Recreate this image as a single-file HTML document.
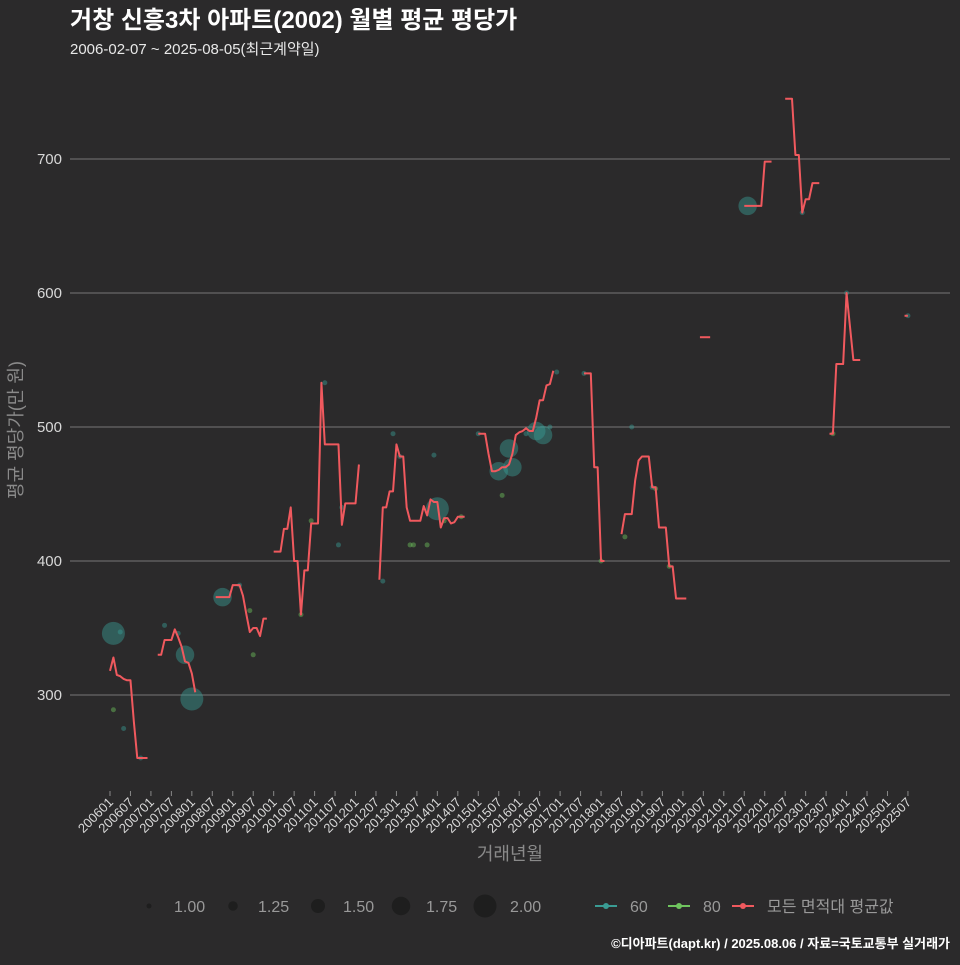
<!DOCTYPE html>
<html><head><meta charset="utf-8">
<style>
html,body{margin:0;padding:0;background:#2b2a2b;}
body{width:960px;height:960px;overflow:hidden;font-family:"Liberation Sans","Noto Sans CJK KR",sans-serif;}
svg text{font-family:"Liberation Sans","Noto Sans CJK KR",sans-serif;}
</style></head>
<body>
<svg id="chart" width="960" height="960" xmlns="http://www.w3.org/2000/svg">
<rect x="0" y="0" width="960" height="960" fill="#2b2a2b"/>
<text x="70" y="28" fill="#ffffff" font-size="24" font-weight="bold">거창 신흥3차 아파트(2002) 월별 평균 평당가</text>
<text x="70" y="54" fill="#e8e8e8" font-size="15">2006-02-07 ~ 2025-08-05(최근계약일)</text>
<g id="grid"></g>
<g id="yticks"></g>
<g id="xticks"></g>
<g id="points"></g>
<g id="lines"></g>
<text transform="translate(22,430) rotate(-90)" text-anchor="middle" fill="#8a8a8a" font-size="18">평균 평당가(만 원)</text>
<text x="510" y="860" text-anchor="middle" fill="#8a8a8a" font-size="18">거래년월</text>
<g id="legend"></g>
<text x="950" y="948" text-anchor="end" fill="#ffffff" font-size="13" font-weight="bold">©디아파트(dapt.kr) / 2025.08.06 / 자료=국토교통부 실거래가</text>
</svg>
<script>
// ---- data ----
const yTicks = [300, 400, 500, 600, 700];
const xTickLabels = ["200601","200607","200701","200707","200801","200807","200901","200907","201001","201007","201101","201107","201201","201207","201301","201307","201401","201407","201501","201507","201601","201607","201701","201707","201801","201807","201901","201907","202001","202007","202101","202107","202201","202207","202301","202307","202401","202407","202501","202507"];
// average line: month index (0 = 2006-01), value; null splits segments
const avgMonths = [0,1,2,3,4,5,6,7,8,9,10,11,null,
 14,15,16,17,18,19,20,21,22,23,24,25,null,
 31,32,33,34,35,36,37,38,39,40,41,42,43,44,45,46,null,
 48,49,50,51,52,53,54,55,56,57,58,59,60,61,62,63,64,65,66,67,68,69,70,71,72,73,null,
 79,80,81,82,83,84,85,86,87,88,89,90,91,92,93,94,95,96,97,98,99,100,101,102,103,104,null,
 108,109,110,111,112,113,114,115,116,117,118,119,120,121,122,123,124,125,126,127,128,129,130,null,
 139,140,141,142,143,144,145,null,
 150,151,152,153,154,155,156,157,158,159,160,161,162,163,164,165,166,167,168,169,null,
 173,174,175,176,null,
 186,187,188,189,190,191,192,193,194,null,
 198,199,200,201,202,203,204,205,206,207,208,null,
 211,212,213,214,215,216,217,218,219,220,null,
 233,234];
const avgValues = [318,328,315,314,312,311,311,280,253,253,253,253,null,
 330,330,341,341,341,349,343,336,325,324,316,302,null,
 373,373,373,373,373,382,382,382,374,360,347,350,350,344,357,357,null,
 407,407,407,424,424,440,400,400,360,393,393,428,428,428,533,487,487,487,487,487,427,443,443,443,443,472,null,
 386,440,440,452,452,487,478,478,440,430,430,430,430,441,434,446,444,444,425,432,432,428,429,433,433,433,null,
 495,495,495,480,467,467,468,470,470,472,480,494,496,497,499,497,497,507,520,520,531,532,542,null,
 540,540,540,470,470,400,400,null,
 420,435,435,435,460,475,478,478,478,455,455,425,425,425,396,396,372,372,372,372,null,
 567,567,567,567,null,
 665,665,665,665,665,665,698,698,698,null,
 745,745,745,703,703,660,670,670,682,682,682,null,
 495,495,547,547,547,600,575,550,550,550,null,
 583,583];
// scatter points (size 60 m2)
const p60Months = [1,3,4,9,16,20,22,24,33,38,63,68,67,80,83,85,95,96,108,114,117,118,122,125,127,129,131,139,153,159,187,203,216,234];
const p60Values = [346,347,275,253,352,346,330,297,373,382,533,440,412,385,495,478,479,439,495,467,484,470,495,497,494,500,541,540,500,455,665,660,600,583];
const p60Sizes  = [2,1,1,1,1,1,1.75,2,1.75,1,1,1,1,1,1,1,1,2,1,1.75,1.75,1.75,1,1.75,1.75,1,1,1,1,1,1.75,1,1,1];
// scatter points (size 80 m2)
const p80Months = [1,41,42,56,59,88,89,93,98,103,115,144,151,160,164,212];
const p80Values = [289,363,330,360,430,412,412,412,430,433,449,400,418,454,396,495];
const p80Sizes  = [1,1,1,1,1,1,1,1,1,1,1,1,1,1,1,1];

// ---- axes ----
const NS = "http://www.w3.org/2000/svg";
const X = m => 110 + m * 3.41;
const Y = v => 159 + (700 - v) * 1.34;
const R = s => 2.5 + (s - 1) * 9;
function mk(tag, parent, attrs){ const e=document.createElementNS(NS,tag); for(const k in attrs) e.setAttribute(k,attrs[k]); parent.appendChild(e); return e; }

const grid=document.getElementById('grid'), yt=document.getElementById('yticks');
yTicks.forEach(v=>{
  const l=mk('line',grid,{x1:70,x2:950,y1:Y(v),y2:Y(v),stroke:'#777',"stroke-width":1});
  
  
  const t=mk('text',yt,{x:62,y:Y(v)+5,"text-anchor":"end",fill:"#d8d8d8","font-size":15});
  t.textContent=v;
  
  
});
const xt=document.getElementById('xticks');
xTickLabels.forEach((lab,i)=>{
  const x=X(i*6);
  const tk=mk('line',xt,{x1:x,x2:x,y1:791,y2:796,stroke:'#888'});
  
  
  const t=mk('text',xt,{x:x+4,y:803,"text-anchor":"end",fill:"#d8d8d8","font-size":13,transform:`rotate(-45 ${x+4} 803)`});
  t.textContent=lab;
  
  
});

// ---- points ----
const pts=document.getElementById('points');
function drawPts(ms,vs,ss,col,name){
  ms.forEach((m,i)=>{
    const c=mk('circle',pts,{cx:X(m),cy:Y(vs[i]),r:R(ss[i]),fill:col,"fill-opacity":0.45});
    
    
  });
}
drawPts(p60Months,p60Values,p60Sizes,'#3a9c94','point-60');
drawPts(p80Months,p80Values,p80Sizes,'#6fc45e','point-80');

// ---- avg line ----
const lines=document.getElementById('lines');
let seg=[];
function flush(){
  if(seg.length){
    const p=mk('polyline',lines,{points:seg.join(' '),fill:'none',stroke:'#f0595e',"stroke-width":2,"stroke-linejoin":"round"});
    
    
  }
  seg=[];
}
avgMonths.forEach((m,i)=>{ if(m===null){flush();} else seg.push(X(m)+','+Y(avgValues[i])); });
flush();

// ---- legend ----
const lg=document.getElementById('legend');
const sizes=[1,1.25,1.5,1.75,2], sx=[149,233,318,401,485];
sizes.forEach((s,i)=>{
  const c=mk('circle',lg,{cx:sx[i],cy:906,r:R(s),fill:'#1e1e1e'});
  
  
  const t=mk('text',lg,{x:sx[i]+25,y:912,fill:'#999',"font-size":16});
  t.textContent=s.toFixed(2);
  
  
});
[['60','#3a9c94',595],['80','#6fc45e',668],['모든 면적대 평균값','#f0595e',732]].forEach(([lab,col,x])=>{
  const l=mk('line',lg,{x1:x,x2:x+22,y1:906,y2:906,stroke:col,"stroke-width":2});
  
  
  mk('circle',lg,{cx:x+11,cy:906,r:3,fill:col});
  const t=mk('text',lg,{x:x+35,y:912,fill:'#999',"font-size":16});
  t.textContent=lab;
  
  
});
</script>
</body></html>
